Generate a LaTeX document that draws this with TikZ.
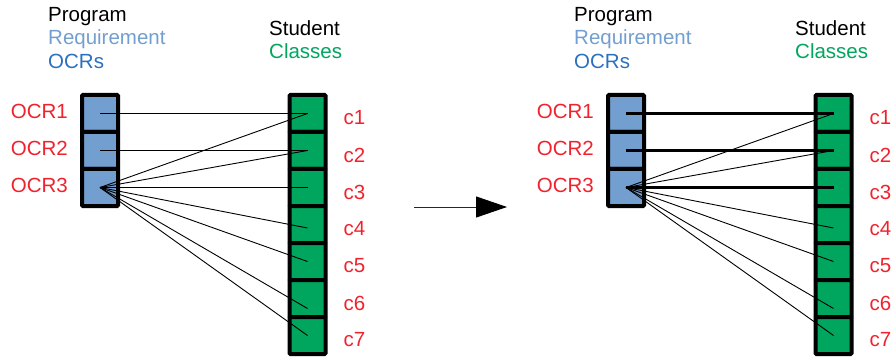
\documentclass[tikz,border=0pt]{standalone}
\usepackage{fontspec}
\setmainfont{Liberation Sans}
\usetikzlibrary{arrows.meta}
\definecolor{ocrfill}{HTML}{729FCF}
\definecolor{classfill}{HTML}{00A65D}
\definecolor{ocrblue}{HTML}{2A70BE}
\definecolor{labelred}{HTML}{F0222D}
\begin{document}
\begin{tikzpicture}[x=1pt,y=-1pt,
  font=\fontsize{20.5}{24}\selectfont,
  cell/.style={draw=black, line width=4pt, minimum width=36pt, minimum height=37pt,
    inner sep=0pt, outer sep=0pt, rounded corners=1pt},
  ocr/.style={cell, fill=ocrfill},
  cls/.style={cell, fill=classfill},
  head/.style={anchor=base west, inner sep=0pt},
  tag/.style={text=labelred, inner sep=0pt},
  link/.style={line width=0.9pt},
  strong/.style={line width=3.8pt},
]
\useasboundingbox (0,0) rectangle (893,358);

% two panels: before (left) and after (right)
\foreach \p/\dx in {l/0,r/526}{
  \begin{scope}[xshift=\dx pt]
    \node[head] (\p hp) at (48,22) {Program};
    \node[head, text=ocrfill] (\p hr) at (48,45) {Requirement};
    \node[head, text=ocrblue] (\p ho) at (48,69) {OCRs};
    \node[head] (\p hs) at (269,36) {Student};
    \node[head, text=classfill] (\p hc) at (269,59) {Classes};
    \foreach \i in {1,2,3}{
      \node[ocr] (\p o\i) at (100,76.5+37*\i) {};
      \node[tag, anchor=east] (\p ol\i) at ([xshift=-14pt,yshift=2pt]\p o\i.west) {OCR\i};
    }
    \foreach \i in {1,...,7}{
      \node[cls] (\p c\i) at (307.5,76.5+37*\i) {};
      \node[tag, anchor=west] (\p cl\i) at ([xshift=18pt,yshift=-4.5pt]\p c\i.east) {c\i};
    }
  \end{scope}
}

% requirement-to-class links
\foreach \p in {l,r}{
  \draw[link] (\p o1.center) -- (\p c1.center);
  \draw[link] (\p o2.center) -- (\p c2.center);
  \foreach \j/\s in {1/0,2/0,3/0,4/-3.5,5/0,6/-10,7/0}
    \draw[link] (\p o3.center) -- ([yshift=\s pt]\p c\j.center);
}

% chosen assignments
\draw[strong] (ro1.center) -- (rc1.center);
\draw[strong] (ro2.center) -- (rc2.center);
\draw[strong] (ro3.center) -- (rc3.center);

% transition arrow
\coordinate (arrfrom) at (414,207);
\coordinate (arrto) at (507,207);
\draw[line width=1pt, draw=black!85, -{Triangle[length=31pt,width=21pt,color=black,fill=black]}] (arrfrom) -- (arrto);
\end{tikzpicture}
\end{document}
